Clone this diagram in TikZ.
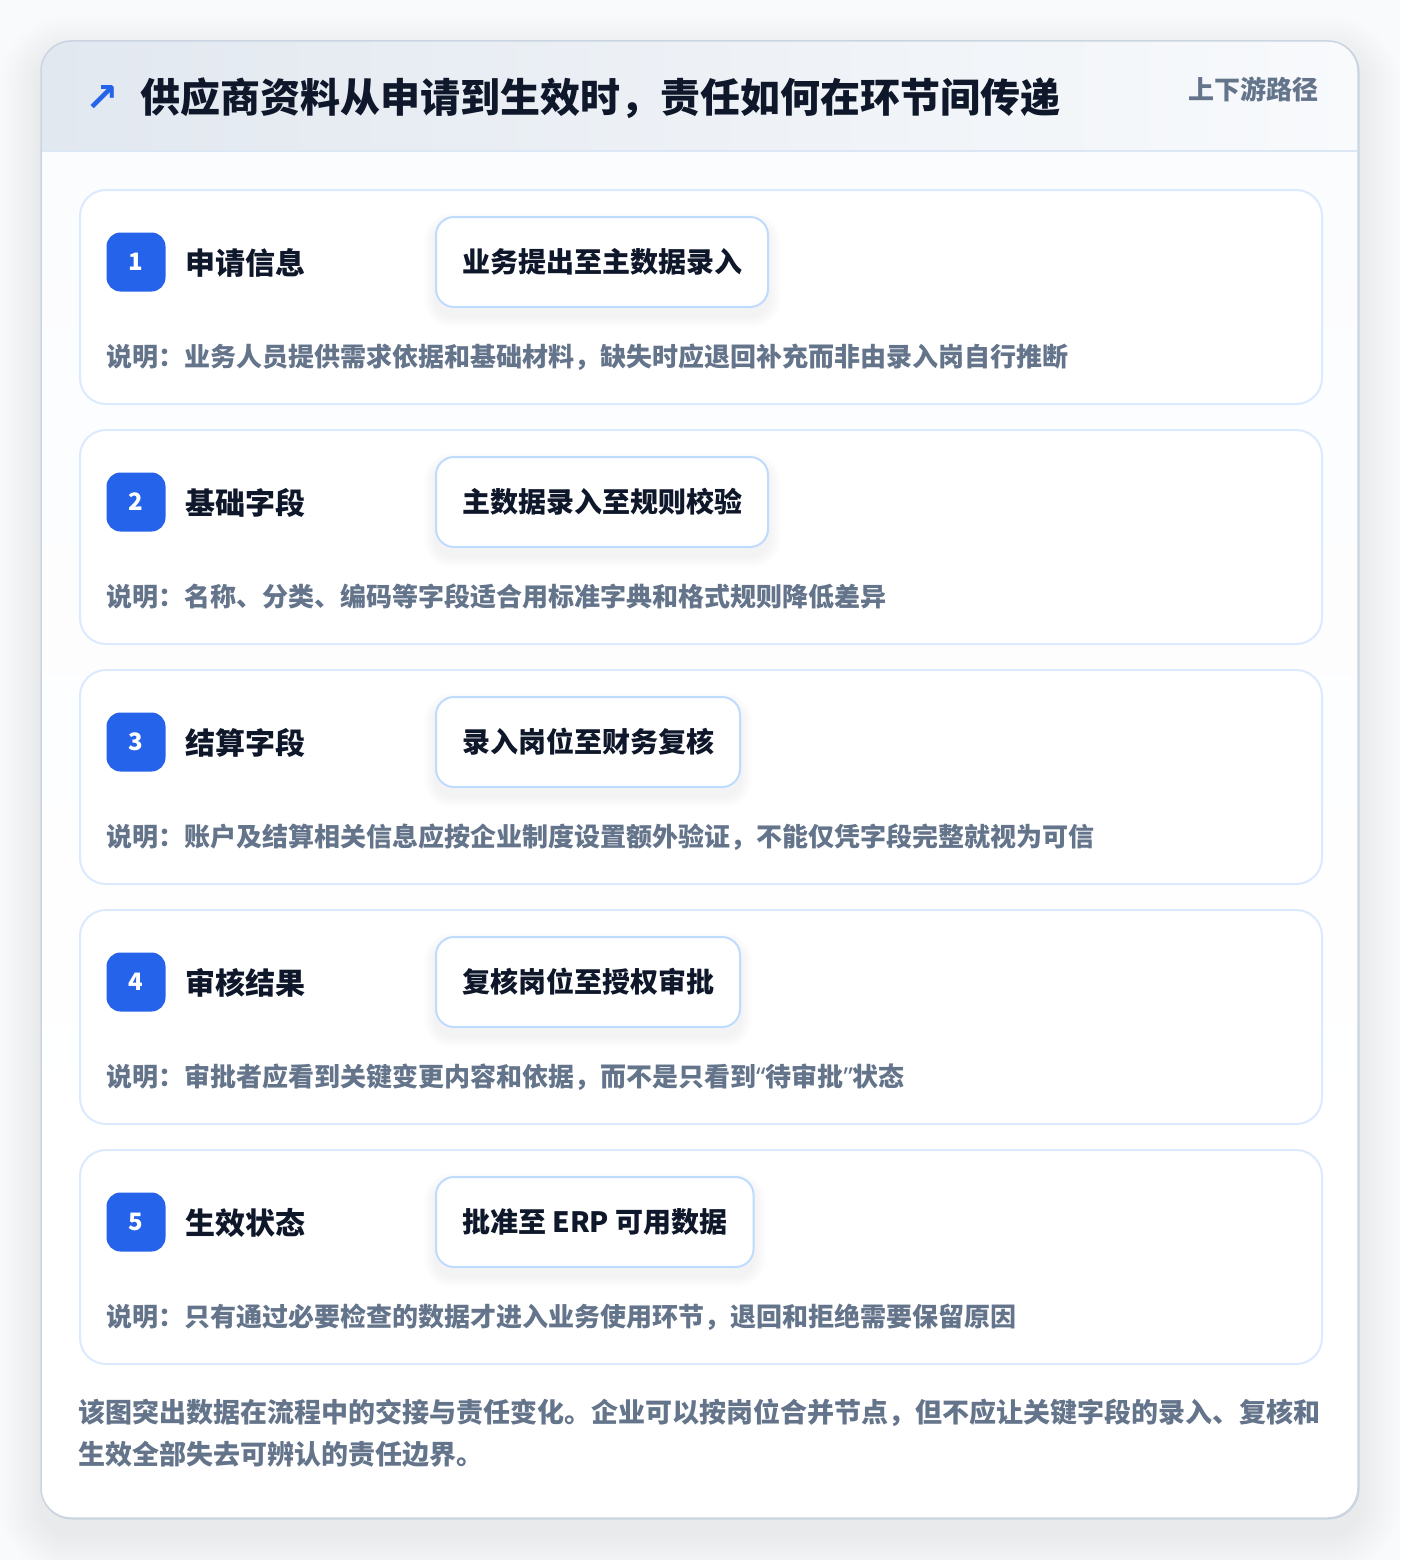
\documentclass[tikz,border=0pt]{standalone}
\usepackage{fontspec}
\setmainfont{Noto Sans CJK SC}
\newfontfamily\symfont{DejaVu Sans}
\newfontfamily\latinfont{Noto Sans}
\usetikzlibrary{positioning}
\definecolor{pagebg}{HTML}{F9FAFB}
\definecolor{outline}{HTML}{CBD5E1}
\definecolor{headl}{HTML}{E2E8F0}
\definecolor{headr}{HTML}{F8FAFC}
\definecolor{headline}{HTML}{DBE7F5}
\definecolor{bodybg}{HTML}{FBFCFE}
\definecolor{cardline}{HTML}{DBEAFE}
\definecolor{pillline}{HTML}{BFDBFE}
\definecolor{accent}{HTML}{2563EB}
\definecolor{ink}{HTML}{0F172A}
\definecolor{muted}{HTML}{64748B}
\pgfdeclarelayer{cardlayer}
\pgfdeclarelayer{shadowlayer}
\pgfsetlayers{cardlayer,shadowlayer,main}
\newcommand{\myopenq}{{\latinfont\bfseries “}}
\newcommand{\mycloseq}{{\latinfont\bfseries ”}}
\begin{document}
\begin{tikzpicture}[x=1pt,y=-1pt,
  card/.style={draw=cardline, line width=2pt, fill=white, rounded corners=26pt,
    minimum width=1242pt, minimum height=214pt, anchor=north west, inner sep=0pt},
  badge/.style={fill=accent, rounded corners=14pt, minimum width=59pt, minimum height=59pt,
    inner sep=0pt, text=white, font=\bfseries\fontsize{24}{24}\selectfont},
  label/.style={anchor=west, inner sep=0pt, text=ink, font=\bfseries\fontsize{30}{30}\selectfont},
  pill/.style={anchor=west, draw=pillline, line width=2pt, fill=white, rounded corners=18pt,
    minimum height=90pt, inner xsep=26pt, inner ysep=0pt, text=ink,
    font=\bfseries\fontsize{28}{28}\selectfont},
  desc/.style={anchor=west, inner sep=0pt, text=muted, font=\bfseries\fontsize{26}{26}\selectfont},
]
\useasboundingbox (0,0) rectangle (1400,1560);
\begin{pgfonlayer}{cardlayer}
\fill[pagebg] (0,0) rectangle (1400,1560);
% outer shadow
\foreach \k in {1,...,16}{
  \fill[black, opacity=0.004, rounded corners=30pt+2.6*\k pt]
    (41-2.6*\k,41-2.6*\k+16) rectangle (1358+2.6*\k,1518+2.6*\k+16);
}
\node[draw=outline, line width=1.5pt, fill=bodybg, rounded corners=30pt,
  minimum width=1317pt, minimum height=1477pt, anchor=north west, inner sep=0pt] (outer) at (41,41) {};
\begin{scope}
  \clip[rounded corners=30pt] (41,41) rectangle (1358,1518);
  \shade[left color=headl, right color=headr] (41,41) rectangle (1358,151);
  \fill[white] (41,1200) rectangle (1358,1518);
  \shade[top color=bodybg, bottom color=white] (41,151) rectangle (1358,1200);
\end{scope}
\draw[outline, line width=1.5pt, rounded corners=30pt] (41,41) rectangle (1358,1518);
\draw[headline, line width=2pt] (42,151) -- (1357,151);
\foreach \i/\y in {1/189,2/429,3/669,4/909,5/1149}{
  \node[card] (c\i) at (79,\y) {};
}
\end{pgfonlayer}

% header
\node[anchor=center, inner sep=0pt, text=accent, font=\symfont\bfseries\fontsize{40}{40}\selectfont] (arrow) at (102,99) {↗};
\node[anchor=west, inner sep=0pt, text=ink, font=\bfseries\fontsize{40}{40}\selectfont] (title) at (140,98) {供应商资料从申请到生效时，责任如何在环节间传递};
\node[anchor=west, inner sep=0pt, text=muted, font=\bfseries\fontsize{26}{26}\selectfont] (tag) at (1188,89) {上下游路径};

% cards
\foreach \i/\y/\lab/\pil/\des in {
  1/189/申请信息/业务提出至主数据录入/说明：业务人员提供需求依据和基础材料，缺失时应退回补充而非由录入岗自行推断,
  2/429/基础字段/主数据录入至规则校验/说明：名称、分类、编码等字段适合用标准字典和格式规则降低差异,
  3/669/结算字段/录入岗位至财务复核/说明：账户及结算相关信息应按企业制度设置额外验证，不能仅凭字段完整就视为可信,
  4/909/审核结果/复核岗位至授权审批/说明：审批者应看到关键变更内容和依据，而不是只看到\myopenq 待审批\mycloseq 状态,
  5/1149/生效状态/批准至 ERP 可用数据/说明：只有通过必要检查的数据才进入业务使用环节，退回和拒绝需要保留原因}{
  \node[badge] (b\i) at (136,\y+73) {\i};
  \node[label] (l\i) at (185,\y+74) {\lab};
  \node[pill] (p\i) at (435,\y+73) {\pil};
  \node[desc] (d\i) at (106,\y+168) {\des};
  \begin{pgfonlayer}{shadowlayer}
    \foreach \k in {1,...,12}{
      \fill[black, opacity=0.005, rounded corners=18pt+\k pt]
        ([xshift=-\k pt, yshift=-8pt+\k pt]p\i.north west) rectangle
        ([xshift=\k pt, yshift=-8pt-\k pt]p\i.south east);
    }
  \end{pgfonlayer}
}

% footer
\node[anchor=north west, inner sep=0pt, text=muted, align=left,
  font=\bfseries\fontsize{27}{42}\selectfont] (foot) at (78,1399)
  {该图突出数据在流程中的交接与责任变化。企业可以按岗位合并节点，但不应让关键字段的录入、复核和\\生效全部失去可辨认的责任边界。};
\end{tikzpicture}
\end{document}
